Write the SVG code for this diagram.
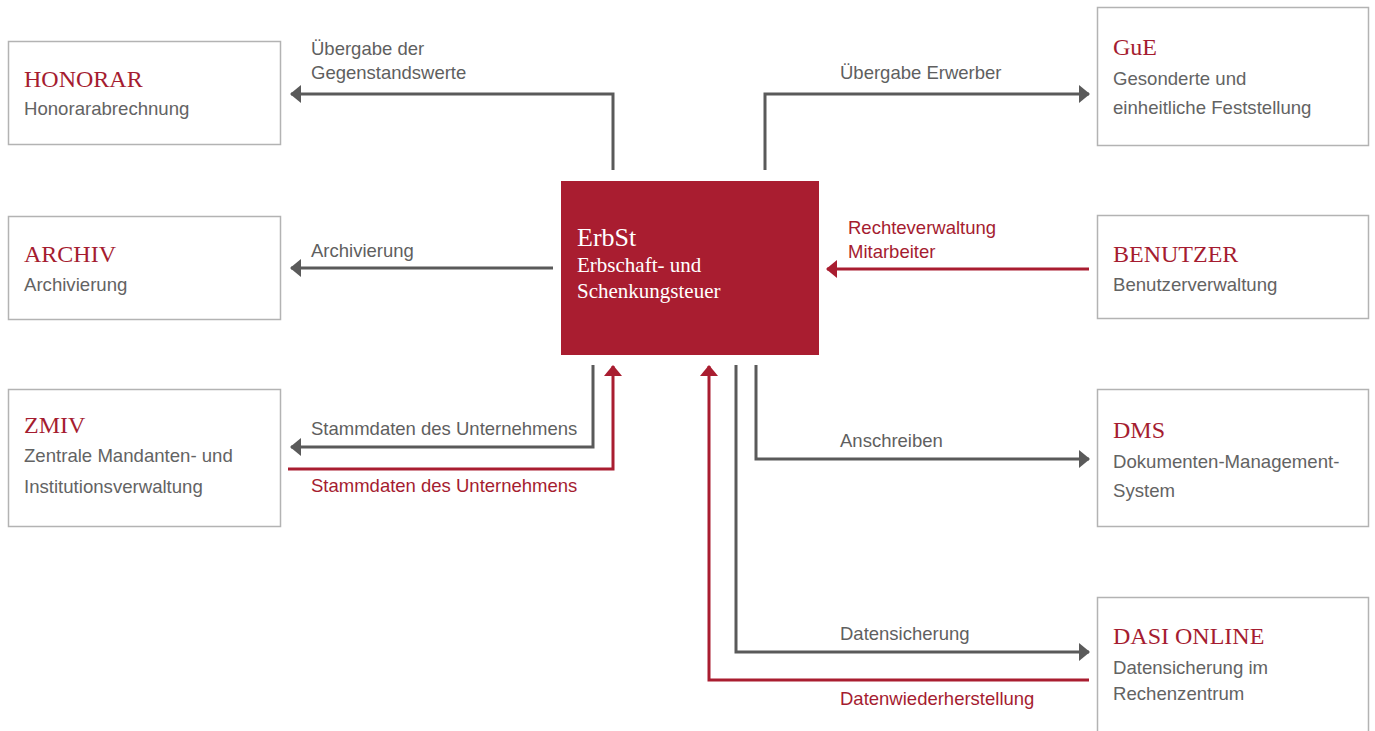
<svg xmlns="http://www.w3.org/2000/svg" width="1375" height="731" viewBox="0 0 1375 731">
<defs>
<style>
.box{fill:#fff;stroke:#b3b3b3;stroke-width:1.5}
.title{font-family:"Liberation Serif",serif;font-size:24px;fill:#a51c30}
.sub{font-family:"Liberation Sans",Arial,sans-serif;font-size:18.6px;fill:#636363}
.lbl{font-family:"Liberation Sans",Arial,sans-serif;font-size:18.5px;fill:#5f5f5f}
.lblr{font-family:"Liberation Sans",Arial,sans-serif;font-size:18.5px;fill:#a51c30}
.g{fill:none;stroke:#5a5a5a;stroke-width:3}
.r{fill:none;stroke:#a91d30;stroke-width:3}
.ctr{font-family:"Liberation Serif",serif;fill:#fff}
</style>
<marker id="ag" viewBox="0 0 11 18" refX="10" refY="9" markerWidth="11" markerHeight="18" markerUnits="userSpaceOnUse" orient="auto"><path d="M0,0 L11,9 L0,18 Z" fill="#5a5a5a"/></marker>
<marker id="ar" viewBox="0 0 11 18" refX="10" refY="9" markerWidth="11" markerHeight="18" markerUnits="userSpaceOnUse" orient="auto"><path d="M0,0 L11,9 L0,18 Z" fill="#a91d30"/></marker>
</defs>
<rect width="1375" height="731" fill="#fff"/>
<g id="connectors">
<path class="g" d="M613,170 V94 H291" marker-end="url(#ag)"/>
<path class="g" d="M765,170 V94 H1089" marker-end="url(#ag)"/>
<path class="g" d="M553,268 H291" marker-end="url(#ag)"/>
<path class="r" d="M1089,269 H827" marker-end="url(#ar)"/>
<path class="g" d="M593,365 V447 H291" marker-end="url(#ag)"/>
<path class="r" d="M288,469 H613 V366" marker-end="url(#ar)"/>
<path class="g" d="M756,365 V459 H1089" marker-end="url(#ag)"/>
<path class="g" d="M736,365 V652 H1089" marker-end="url(#ag)"/>
<path class="r" d="M1089,680 H709 V366" marker-end="url(#ar)"/>
<text class="lbl" x="311" y="55">Übergabe der</text>
<text class="lbl" x="311" y="79">Gegenstandswerte</text>
<text class="lbl" x="840" y="79">Übergabe Erwerber</text>
<text class="lbl" x="311" y="257">Archivierung</text>
<text class="lblr" x="848" y="234">Rechteverwaltung</text>
<text class="lblr" x="848" y="258">Mitarbeiter</text>
<text class="lbl" x="311" y="435">Stammdaten des Unternehmens</text>
<text class="lblr" x="311" y="492">Stammdaten des Unternehmens</text>
<text class="lbl" x="840" y="447">Anschreiben</text>
<text class="lbl" x="840" y="640">Datensicherung</text>
<text class="lblr" x="840" y="705">Datenwiederherstellung</text>
</g>
<g id="center">
<rect x="561" y="181" width="258" height="174" fill="#a91d30"/>
<text class="ctr" x="577" y="246" font-size="26">ErbSt</text>
<text class="ctr" x="577" y="272" font-size="21">Erbschaft- und</text>
<text class="ctr" x="577" y="298" font-size="21">Schenkungsteuer</text>
</g>
<g id="honorar">
<rect class="box" x="8.5" y="41.5" width="272" height="103"/>
<text class="title" x="24" y="87">HONORAR</text>
<text class="sub" x="24" y="115">Honorarabrechnung</text>
</g>
<g id="archiv">
<rect class="box" x="8.5" y="216.5" width="272" height="103"/>
<text class="title" x="24" y="262">ARCHIV</text>
<text class="sub" x="24" y="291">Archivierung</text>
</g>
<g id="zmiv">
<rect class="box" x="8.5" y="389.5" width="272" height="137"/>
<text class="title" x="24" y="433">ZMIV</text>
<text class="sub" x="24" y="462">Zentrale Mandanten- und</text>
<text class="sub" x="24" y="493">Institutionsverwaltung</text>
</g>
<g id="gue">
<rect class="box" x="1097.5" y="7.5" width="271" height="138"/>
<text class="title" x="1113" y="55">GuE</text>
<text class="sub" x="1113" y="85">Gesonderte und</text>
<text class="sub" x="1113" y="114">einheitliche Feststellung</text>
</g>
<g id="benutzer">
<rect class="box" x="1097.5" y="215.5" width="271" height="103"/>
<text class="title" x="1113" y="262">BENUTZER</text>
<text class="sub" x="1113" y="291">Benutzerverwaltung</text>
</g>
<g id="dms">
<rect class="box" x="1097.5" y="389.5" width="271" height="137"/>
<text class="title" x="1113" y="438">DMS</text>
<text class="sub" x="1113" y="468">Dokumenten-Management-</text>
<text class="sub" x="1113" y="497">System</text>
</g>
<g id="dasi">
<rect class="box" x="1097.5" y="597.5" width="271" height="140"/>
<text class="title" x="1113" y="644">DASI ONLINE</text>
<text class="sub" x="1113" y="674">Datensicherung im</text>
<text class="sub" x="1113" y="700">Rechenzentrum</text>
</g>
</svg>
